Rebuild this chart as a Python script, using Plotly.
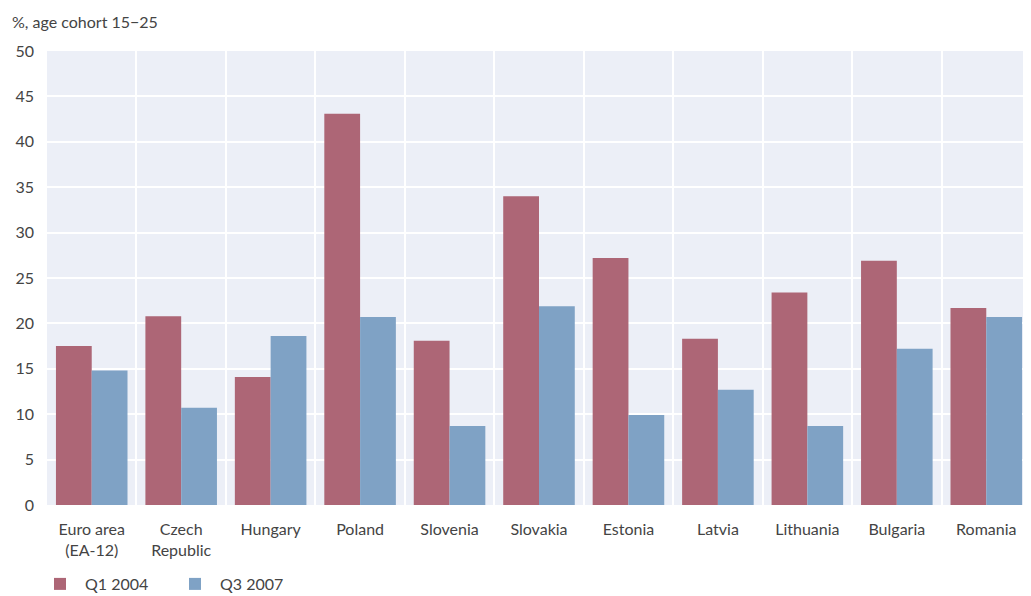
import plotly.graph_objects as go

categories = ["Euro area<br>(EA-12)", "Czech<br>Republic", "Hungary", "Poland", "Slovenia",
              "Slovakia", "Estonia", "Latvia", "Lithuania", "Bulgaria", "Romania"]
q1_2004 = [17.5, 20.8, 14.1, 43.1, 18.1, 34.0, 27.2, 18.3, 23.4, 26.9, 21.7]
q3_2007 = [14.8, 10.7, 18.6, 20.7, 8.7, 21.9, 9.9, 12.7, 8.7, 17.2, 20.7]
y_ticks = [0, 5, 10, 15, 20, 25, 30, 35, 40, 45, 50]

FONT = "Lato"
TXT = "#444444"

fig = go.Figure()
fig.add_trace(go.Bar(x=categories, y=q1_2004, name="Q1 2004", marker_color="#ad6676",
                     marker_line_width=0))
fig.add_trace(go.Bar(x=categories, y=q3_2007, name="Q3 2007", marker_color="#7fa2c5",
                     marker_line_width=0))
# invisible trace on overlay axis for category-boundary gridlines
fig.add_trace(go.Scatter(x=[-0.5, len(categories) - 0.5], y=[None, None], xaxis="x2",
                         showlegend=False, hoverinfo="skip", mode="markers"))

fig.update_layout(
    width=1023, height=588,
    margin=dict(l=39, r=0, t=43, b=91, autoexpand=False),
    paper_bgcolor="white",
    plot_bgcolor="#eceff7",
    font=dict(family=FONT, size=16, color=TXT),
    barmode="group", bargap=0.2, bargroupgap=0,
    xaxis=dict(showgrid=False, ticks="", tickfont=dict(size=16, color=TXT),
               ticklabelstandoff=13),
    xaxis2=dict(overlaying="x", range=[-0.5, len(categories) - 0.5], tick0=0.5, dtick=1,
                showgrid=True, gridcolor="white", gridwidth=1.5, showticklabels=False,
                zeroline=False, ticks=""),
    yaxis=dict(range=[0, 50], tickvals=y_ticks, showgrid=True, gridcolor="white",
               gridwidth=1.5, zeroline=False, ticks="", ticklabelstandoff=12,
               tickfont=dict(size=16, color=TXT)),
    legend=dict(orientation="h", x=-12/984, xanchor="left",
                yref="container", y=12/588, yanchor="middle",
                font=dict(size=16, color=TXT), traceorder="normal",
                itemwidth=40, entrywidthmode="pixels", entrywidth=80),
    annotations=[dict(text="%, age cohort 15\u221225", xref="paper", yref="paper",
                      x=-37/984, y=1.0, xanchor="left", yanchor="bottom", yshift=18,
                      showarrow=False, font=dict(size=16, color=TXT, family=FONT))],
)
fig.write_html("out.html")
